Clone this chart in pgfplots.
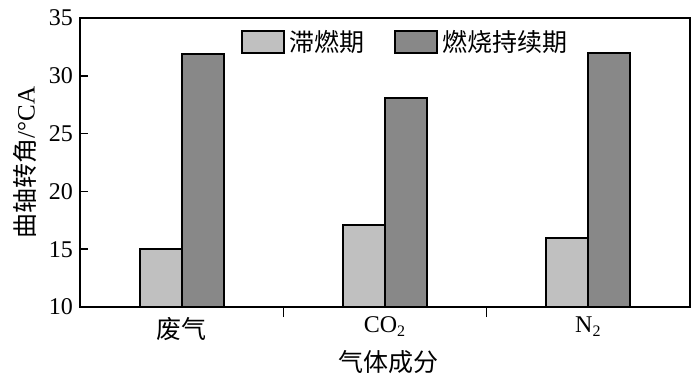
\documentclass[border=0pt]{standalone}
\usepackage{pgfplots}
\pgfplotsset{compat=1.18}
\usepackage{fontspec}
\setmainfont{Liberation Serif}
\newfontfamily\cjk{Noto Sans CJK SC}
\definecolor{lightbar}{HTML}{C0C0C0}
\definecolor{darkbar}{HTML}{888888}
\pgfplotsset{mylegend/.style={legend image code/.code={\draw[##1,line width=1pt] (0pt,-5.5pt) rectangle (21pt,5.5pt);}}}
\begin{document}
\begin{tikzpicture}
\path[use as bounding box] (0,0) rectangle (350pt,190pt);
\begin{axis}[
  at={(40pt,36.5pt)}, anchor=south west,
  width=305pt, height=144.5pt, scale only axis,
  xmin=-0.5, xmax=2.5, ymin=10, ymax=35,
  ytick={10,15,20,25,30,35},
  xtick={0,1,2},
  xticklabels={{\cjk\fontsize{12.5}{14}\selectfont 废气}, {CO\textsubscript{2}}, {N\textsubscript{2}}},
  major x tick style={draw=none},
  minor xtick={0.5,1.5},
  minor tick length=5pt,
  major tick length=4pt,
  tick align=inside, xtick pos=bottom, ytick pos=left,
  axis line style={line width=1pt},
  tick style={line width=0.8pt, black},
  tick label style={font=\fontsize{12}{14}\selectfont},
  xticklabel style={yshift=2.5pt},
  /pgf/number format/assume math mode=true,
  ylabel={{\cjk 曲轴转角}/°CA},
  ylabel style={font=\fontsize{12.5}{14}\selectfont, at={(axis description cs:-0.09,0.5)}, anchor=center},
  xlabel={\cjk 气体成分},
  xlabel style={font=\fontsize{12.5}{14}\selectfont, at={(axis description cs:0.506,-0.19)}, anchor=center},
  ybar=0pt, bar width=21pt,
  legend columns=2,
  legend style={draw=none, fill=none, at={(axis description cs:0.535,0.917)}, anchor=center,
    font=\fontsize{12.5}{14}\selectfont\cjk,
    /tikz/every even column/.append style={column sep=13pt},
    nodes={inner sep=2pt}},
]
\addplot[fill=lightbar, draw=black, line width=1pt, mylegend] coordinates {(0,15.0) (1,17.1) (2,16.0)};
\addplot[fill=darkbar, draw=black, line width=1pt, mylegend] coordinates {(0,31.9) (1,28.1) (2,32.0)};
\legend{滞燃期, 燃烧持续期}
\end{axis}
\end{tikzpicture}
\end{document}
